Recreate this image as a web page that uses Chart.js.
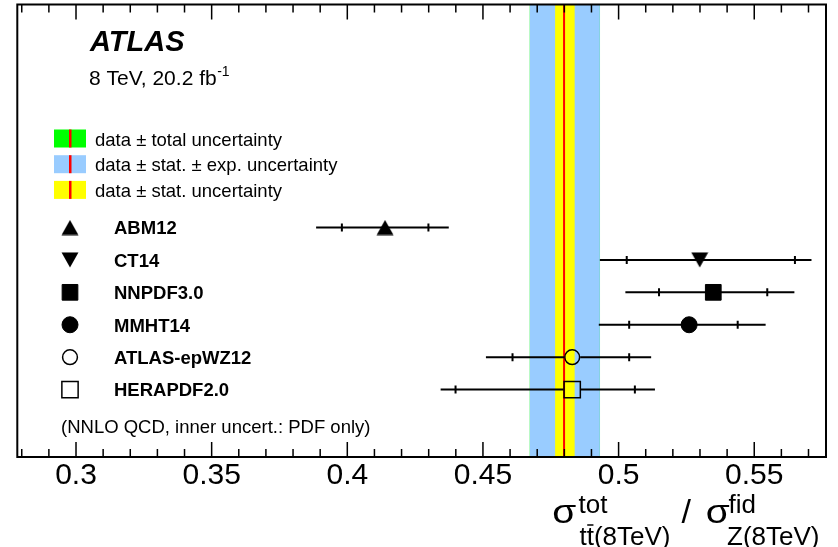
<!DOCTYPE html>
<html lang="en">
<head>
  <meta charset="UTF-8">
  <title>ttbar / Z cross-section ratio</title>
  <style>
    html, body { margin: 0; padding: 0; background: #fff; }
    #wrap { width: 838px; height: 547px; }
  </style>
</head>
<body>
  <div id="wrap"><canvas id="ratio-chart" width="838" height="547"></canvas></div>

  <script src="https://cdn.jsdelivr.net/npm/chart.js"></script>
  <script>
    // PDF predictions (rows top to bottom)
    const pdfNames = ['ABM12', 'CT14', 'NNPDF3.0', 'MMHT14', 'ATLAS-epWZ12', 'HERAPDF2.0'];
    const rows = [1, 2, 3, 4, 5, 6];
    const central = [0.4139, 0.5299, 0.5349, 0.5260, 0.4829, 0.4829];
    const pdfLo = [0.3980, 0.5030, 0.5149, 0.5039, 0.4609, 0.4399];
    const pdfHi = [0.4299, 0.5650, 0.5548, 0.5439, 0.5039, 0.5060];
    const totLo = [0.3885, 0.4931, 0.5025, 0.4927, 0.4511, 0.4344];
    const totHi = [0.4374, 0.5711, 0.5648, 0.5542, 0.5120, 0.5134];

    // measured ratio and its bands
    const dataValue = 0.4799;
    const statBand = [0.4766, 0.4838];
    const expBand = [0.4673, 0.4931];
    const totalBand = [0.46725, 0.49315];

    const tickVals = [0.3, 0.35, 0.4, 0.45, 0.5, 0.55];
    const tickLabels = ['0.3', '0.35', '0.4', '0.45', '0.5', '0.55'];

    const FONT = '"Liberation Sans", Arial, Helvetica, sans-serif';
    const markerKind = ['triUp', 'triDown', 'rect', 'circle', 'circle', 'rect'];
    const markerFilled = [true, true, true, true, false, false];

    function makeTriangle(up) {
      const c = document.createElement('canvas');
      c.width = 18; c.height = 16;
      const g = c.getContext('2d');
      g.fillStyle = '#000';
      g.beginPath();
      if (up) { g.moveTo(0.5, 15.5); g.lineTo(17.5, 15.5); g.lineTo(9, 0.5); }
      else { g.moveTo(0.5, 0.5); g.lineTo(17.5, 0.5); g.lineTo(9, 15.5); }
      g.closePath();
      g.fill();
      return c;
    }
    const triUp = makeTriangle(true);
    const triDown = makeTriangle(false);

    function pointStyleOf(i) {
      const k = markerKind[i];
      if (k === 'triUp') return triUp;
      if (k === 'triDown') return triDown;
      return k;
    }
    function radiusOf(i) {
      const k = markerKind[i];
      if (k === 'rect') return markerFilled[i] ? 11.1 : 11.5;
      if (k === 'circle') return markerFilled[i] ? 8 : 7.4;
      return 9;
    }

    // sigma drawn a little wider, like the symbol font of the original
    function sigma(ctx, x0, base) {
      ctx.save();
      ctx.font = '34px ' + FONT;
      const w = ctx.measureText('\u03c3').width;
      ctx.translate(x0, base);
      ctx.scale(24 / w, 1);
      ctx.fillText('\u03c3', 0, 0);
      ctx.restore();
    }

    const decor = {
      id: 'decor',
      beforeDatasetsDraw(chart) {
        const { ctx, chartArea: a, scales: { x, y } } = chart;
        ctx.save();
        const band = (b, col) => {
          const x0 = x.getPixelForValue(b[0]);
          const x1 = x.getPixelForValue(b[1]);
          ctx.fillStyle = col;
          ctx.fillRect(x0, a.top, x1 - x0, a.bottom - a.top);
        };
        band(totalBand, '#00ff00');
        band(expBand, '#99ccff');
        band(statBand, '#ffff00');
        ctx.strokeStyle = '#ff0000';
        ctx.lineWidth = 2;
        const xd = x.getPixelForValue(dataValue);
        ctx.beginPath();
        ctx.moveTo(xd, a.top);
        ctx.lineTo(xd, a.bottom);
        ctx.stroke();

        // error bars: outer = total, small ticks = PDF only
        ctx.strokeStyle = '#000';
        ctx.lineWidth = 2;
        pdfNames.forEach((n, i) => {
          const yp = y.getPixelForValue(rows[i]);
          const xc = x.getPixelForValue(central[i]);
          const gap = markerFilled[i] ? 0 : (markerKind[i] === 'rect' ? 8.5 : 8);
          ctx.beginPath();
          ctx.moveTo(x.getPixelForValue(totLo[i]), yp);
          ctx.lineTo(xc - gap, yp);
          ctx.moveTo(xc + gap, yp);
          ctx.lineTo(x.getPixelForValue(totHi[i]), yp);
          [pdfLo[i], pdfHi[i]].forEach(v => {
            const xt = x.getPixelForValue(v);
            ctx.moveTo(xt, yp - 4);
            ctx.lineTo(xt, yp + 4);
          });
          ctx.stroke();
        });
        ctx.restore();
      },
      afterDraw(chart) {
        const { ctx, chartArea: a, scales: { x, y } } = chart;
        ctx.save();

        // frame and inward ticks
        ctx.strokeStyle = '#000';
        ctx.lineWidth = 2;
        ctx.strokeRect(a.left, a.top, a.right - a.left, a.bottom - a.top);
        ctx.lineWidth = 1.5;
        ctx.beginPath();
        for (let k = 28; k <= 57; k++) {
          const xp = x.getPixelForValue(k / 100);
          const len = k % 5 === 0 ? 15 : 8;
          ctx.moveTo(xp, a.bottom);
          ctx.lineTo(xp, a.bottom - len);
          ctx.moveTo(xp, a.top);
          ctx.lineTo(xp, a.top + len);
        }
        ctx.stroke();

        ctx.fillStyle = '#000';
        ctx.textBaseline = 'alphabetic';
        ctx.textAlign = 'left';

        // ATLAS label
        ctx.font = 'italic bold 29px ' + FONT;
        ctx.fillText('ATLAS', 90, 50.5);
        ctx.font = '21px ' + FONT;
        const lumi = '8 TeV, 20.2 fb';
        ctx.fillText(lumi, 89, 85);
        const lw = ctx.measureText(lumi).width;
        ctx.font = '14px ' + FONT;
        ctx.fillText('-1', 89 + lw + 0.5, 76);

        // band legend
        const swatches = [
          ['#00ff00', 'data \u00b1 total uncertainty'],
          ['#99ccff', 'data \u00b1 stat. \u00b1 exp. uncertainty'],
          ['#ffff00', 'data \u00b1 stat. uncertainty']
        ];
        swatches.forEach((s, i) => {
          const yc = 138.5 + i * 25.7;
          ctx.fillStyle = s[0];
          ctx.fillRect(54, yc - 9, 32, 18);
          ctx.fillStyle = '#ff0000';
          ctx.fillRect(69, yc - 9, 2.5, 18);
          ctx.fillStyle = '#000';
          ctx.font = '18.5px ' + FONT;
          ctx.fillText(s[1], 95, yc + 7);
        });

        // PDF legend
        pdfNames.forEach((n, i) => {
          const yp = y.getPixelForValue(rows[i]);
          ctx.font = 'bold 18.5px ' + FONT;
          ctx.fillStyle = '#000';
          ctx.fillText(n, 114, yp + 6.8);
          ctx.fillStyle = markerFilled[i] ? '#000' : 'rgba(0,0,0,0)';
          ctx.strokeStyle = '#000';
          ctx.lineWidth = markerFilled[i] ? 1 : 1.5;
          Chart.helpers.drawPoint(ctx, {
            pointStyle: pointStyleOf(i),
            radius: radiusOf(i),
            rotation: 0,
            borderWidth: markerFilled[i] ? 1 : 1.5
          }, 70, yp);
        });

        ctx.fillStyle = '#000';
        ctx.font = '18.5px ' + FONT;
        ctx.fillText('(NNLO QCD, inner uncert.: PDF only)', 61, 433);

        // axis title: sigma^tot_tt(8TeV) / sigma^fid_Z(8TeV)
        const base = 523.3;
        sigma(ctx, 552.3, base);
        sigma(ctx, 705.7, base);
        ctx.font = '34px ' + FONT;
        ctx.fillText('/', 681.5, base);
        ctx.font = '26px ' + FONT;
        ctx.fillText('tot', 578.5, 512.7);
        ctx.fillText('tt(8TeV)', 579.5, 545);
        const wt = ctx.measureText('t').width;
        ctx.lineWidth = 1.5;
        ctx.beginPath();
        ctx.moveTo(579.5 + wt + 0.5, 525);
        ctx.lineTo(579.5 + 2 * wt - 0.5, 525);
        ctx.stroke();
        ctx.fillText('fid', 728.5, 513);
        ctx.fillText('Z(8TeV)', 727, 545);

        ctx.restore();
      }
    };

    const points = central.map((v, i) => ({ x: v, y: rows[i] }));

    new Chart(document.getElementById('ratio-chart'), {
      type: 'scatter',
      data: {
        datasets: [{
          label: 'PDF predictions',
          data: points,
          pointStyle: ctx => pointStyleOf(ctx.dataIndex),
          pointRadius: central.map((v, i) => radiusOf(i)),
          pointBackgroundColor: central.map((v, i) => markerFilled[i] ? '#000' : 'rgba(0,0,0,0)'),
          pointBorderColor: '#000',
          pointBorderWidth: central.map((v, i) => markerFilled[i] ? 1 : 1.5)
        }]
      },
      options: {
        responsive: false,
        animation: false,
        events: [],
        layout: { autoPadding: false, padding: { left: 17.3, right: 12, top: 4.5, bottom: 52 } },
        plugins: { legend: { display: false }, tooltip: { enabled: false } },
        scales: {
          x: {
            type: 'linear',
            min: 0.27836,
            max: 0.57645,
            grid: { display: false, drawTicks: false },
            border: { display: false },
            afterBuildTicks: axis => { axis.ticks = tickVals.map(v => ({ value: v })); },
            ticks: {
              autoSkip: false,
              maxRotation: 0,
              padding: 1,
              color: '#000',
              font: { family: FONT, size: 30 },
              callback: (v, i) => tickLabels[i]
            }
          },
          y: {
            type: 'linear',
            display: false,
            reverse: true,
            min: -5.88,
            max: 8.08
          }
        }
      },
      plugins: [decor]
    });
  </script>
</body>
</html>
